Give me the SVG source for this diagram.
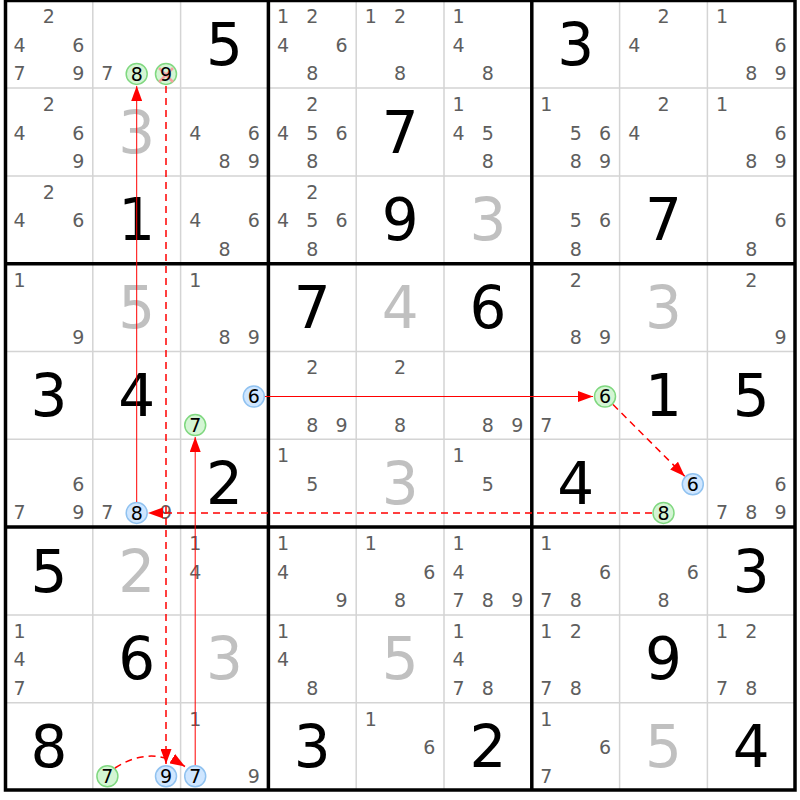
<svg xmlns="http://www.w3.org/2000/svg" width="800" height="800" viewBox="0 0 800 800">
<style>
text{font-family:"DejaVu Sans","Liberation Sans",sans-serif;text-anchor:middle}
.c{font-size:19px;fill:#5e5e5e}
.k{font-size:19px;fill:#000}
.g{font-size:58px;fill:#000}
.s{font-size:58px;fill:#c0c0c0}
.thin{stroke:#d4d4d4;stroke-width:1.5;fill:none}
.thick{stroke:#000;stroke-width:3.5;fill:none}
.gr{fill:#d4f5d4;stroke:#80d880;stroke-width:1.5}
.bl{fill:#cfe6ff;stroke:#90c2f0;stroke-width:1.5}
.ln{stroke:#ff0000;stroke-width:1;fill:none;marker-end:url(#ah)}
.dl{stroke:#ff0000;stroke-width:1.5;fill:none;stroke-dasharray:7,5;marker-end:url(#ah)}
.x{stroke:#f4a0a0;stroke-width:2.5}
</style>
<defs>
<marker id="ah" markerUnits="userSpaceOnUse" markerWidth="15" markerHeight="11" refX="15" refY="5.5" orient="auto">
<path d="M0,0 L15,5.5 L0,11 z" fill="#ff0000"/>
</marker>
</defs>
<rect x="0" y="0" width="800" height="800" fill="#fff"/>
<g id="grid">
<path class="thin" d="M92.8,0V790M180.6,0V790M356.2,0V790M444,0V790M619.6,0V790M707.4,0V790M5,88.1H795M5,175.9H795M5,351.5H795M5,439.3H795M5,614.9H795M5,702.7H795"/>
<path class="thick" d="M268.4,0V790M531.8,0V790M5,263.7H795M5,527.1H795"/>
<rect class="thick" x="5.5" y="0.5" width="789.5" height="789.5"/>
</g>
<g id="r0c0"><text class="c" x="48.9" y="23.1">2</text><text class="c" x="19.6" y="51.8">4</text><text class="c" x="78.2" y="51.8">6</text><text class="c" x="19.6" y="80.4">7</text><text class="c" x="78.2" y="80.4">9</text></g>
<g id="r0c1"><text class="c" x="107.4" y="80.4">7</text><circle class="gr" cx="136.7" cy="73.9" r="10.5"/><text class="k" x="136.7" y="80.6">8</text><circle class="gr" cx="166" cy="73.9" r="10.5"/><path class="x" d="M159,68L173,82M173,68L159,82"/><text class="k" x="166" y="80.6">9</text></g>
<g id="r0c2"><text class="g" x="224.5" y="64.8">5</text></g>
<g id="r0c3"><text class="c" x="283" y="23.1">1</text><text class="c" x="312.3" y="23.1">2</text><text class="c" x="283" y="51.8">4</text><text class="c" x="341.6" y="51.8">6</text><text class="c" x="312.3" y="80.4">8</text></g>
<g id="r0c4"><text class="c" x="370.8" y="23.1">1</text><text class="c" x="400.1" y="23.1">2</text><text class="c" x="400.1" y="80.4">8</text></g>
<g id="r0c5"><text class="c" x="458.6" y="23.1">1</text><text class="c" x="458.6" y="51.8">4</text><text class="c" x="487.9" y="80.4">8</text></g>
<g id="r0c6"><text class="g" x="575.7" y="64.8">3</text></g>
<g id="r0c7"><text class="c" x="663.5" y="23.1">2</text><text class="c" x="634.2" y="51.8">4</text></g>
<g id="r0c8"><text class="c" x="722" y="23.1">1</text><text class="c" x="780.6" y="51.8">6</text><text class="c" x="751.3" y="80.4">8</text><text class="c" x="780.6" y="80.4">9</text></g>

<g id="r1c0"><text class="c" x="48.9" y="110.9">2</text><text class="c" x="19.6" y="139.6">4</text><text class="c" x="78.2" y="139.6">6</text><text class="c" x="78.2" y="168.2">9</text></g>
<g id="r1c1"><text class="s" x="136.7" y="152.6">3</text></g>
<g id="r1c2"><text class="c" x="195.2" y="139.6">4</text><text class="c" x="253.8" y="139.6">6</text><text class="c" x="224.5" y="168.2">8</text><text class="c" x="253.8" y="168.2">9</text></g>
<g id="r1c3"><text class="c" x="312.3" y="110.9">2</text><text class="c" x="283" y="139.6">4</text><text class="c" x="312.3" y="139.6">5</text><text class="c" x="341.6" y="139.6">6</text><text class="c" x="312.3" y="168.2">8</text></g>
<g id="r1c4"><text class="g" x="400.1" y="152.6">7</text></g>
<g id="r1c5"><text class="c" x="458.6" y="110.9">1</text><text class="c" x="458.6" y="139.6">4</text><text class="c" x="487.9" y="139.6">5</text><text class="c" x="487.9" y="168.2">8</text></g>
<g id="r1c6"><text class="c" x="546.4" y="110.9">1</text><text class="c" x="575.7" y="139.6">5</text><text class="c" x="605" y="139.6">6</text><text class="c" x="575.7" y="168.2">8</text><text class="c" x="605" y="168.2">9</text></g>
<g id="r1c7"><text class="c" x="663.5" y="110.9">2</text><text class="c" x="634.2" y="139.6">4</text></g>
<g id="r1c8"><text class="c" x="722" y="110.9">1</text><text class="c" x="780.6" y="139.6">6</text><text class="c" x="751.3" y="168.2">8</text><text class="c" x="780.6" y="168.2">9</text></g>

<g id="r2c0"><text class="c" x="48.9" y="198.7">2</text><text class="c" x="19.6" y="227.4">4</text><text class="c" x="78.2" y="227.4">6</text></g>
<g id="r2c1"><text class="g" x="136.7" y="240.4">1</text></g>
<g id="r2c2"><text class="c" x="195.2" y="227.4">4</text><text class="c" x="253.8" y="227.4">6</text><text class="c" x="224.5" y="256">8</text></g>
<g id="r2c3"><text class="c" x="312.3" y="198.7">2</text><text class="c" x="283" y="227.4">4</text><text class="c" x="312.3" y="227.4">5</text><text class="c" x="341.6" y="227.4">6</text><text class="c" x="312.3" y="256">8</text></g>
<g id="r2c4"><text class="g" x="400.1" y="240.4">9</text></g>
<g id="r2c5"><text class="s" x="487.9" y="240.4">3</text></g>
<g id="r2c6"><text class="c" x="575.7" y="227.4">5</text><text class="c" x="605" y="227.4">6</text><text class="c" x="575.7" y="256">8</text></g>
<g id="r2c7"><text class="g" x="663.5" y="240.4">7</text></g>
<g id="r2c8"><text class="c" x="780.6" y="227.4">6</text><text class="c" x="751.3" y="256">8</text></g>

<g id="r3c0"><text class="c" x="19.6" y="286.5">1</text><text class="c" x="78.2" y="343.8">9</text></g>
<g id="r3c1"><text class="s" x="136.7" y="328.2">5</text></g>
<g id="r3c2"><text class="c" x="195.2" y="286.5">1</text><text class="c" x="224.5" y="343.8">8</text><text class="c" x="253.8" y="343.8">9</text></g>
<g id="r3c3"><text class="g" x="312.3" y="328.2">7</text></g>
<g id="r3c4"><text class="s" x="400.1" y="328.2">4</text></g>
<g id="r3c5"><text class="g" x="487.9" y="328.2">6</text></g>
<g id="r3c6"><text class="c" x="575.7" y="286.5">2</text><text class="c" x="575.7" y="343.8">8</text><text class="c" x="605" y="343.8">9</text></g>
<g id="r3c7"><text class="s" x="663.5" y="328.2">3</text></g>
<g id="r3c8"><text class="c" x="751.3" y="286.5">2</text><text class="c" x="780.6" y="343.8">9</text></g>

<g id="r4c0"><text class="g" x="48.9" y="416">3</text></g>
<g id="r4c1"><text class="g" x="136.7" y="416">4</text></g>
<g id="r4c2"><circle class="bl" cx="253.8" cy="396.5" r="10.5"/><text class="k" x="253.8" y="403.2">6</text><circle class="gr" cx="195.2" cy="425.1" r="10.5"/><text class="k" x="195.2" y="431.8">7</text></g>
<g id="r4c3"><text class="c" x="312.3" y="374.3">2</text><text class="c" x="312.3" y="431.6">8</text><text class="c" x="341.6" y="431.6">9</text></g>
<g id="r4c4"><text class="c" x="400.1" y="374.3">2</text><text class="c" x="400.1" y="431.6">8</text></g>
<g id="r4c5"><text class="c" x="487.9" y="431.6">8</text><text class="c" x="517.2" y="431.6">9</text></g>
<g id="r4c6"><circle class="gr" cx="605" cy="396.5" r="10.5"/><text class="k" x="605" y="403.2">6</text><text class="c" x="546.4" y="431.6">7</text></g>
<g id="r4c7"><text class="g" x="663.5" y="416">1</text></g>
<g id="r4c8"><text class="g" x="751.3" y="416">5</text></g>

<g id="r5c0"><text class="c" x="78.2" y="490.8">6</text><text class="c" x="19.6" y="519.4">7</text><text class="c" x="78.2" y="519.4">9</text></g>
<g id="r5c1"><text class="c" x="107.4" y="519.4">7</text><circle class="bl" cx="136.7" cy="512.9" r="10.5"/><text class="k" x="136.7" y="519.6">8</text><text class="c" x="166" y="519.4">9</text></g>
<g id="r5c2"><text class="g" x="224.5" y="503.8">2</text></g>
<g id="r5c3"><text class="c" x="283" y="462.1">1</text><text class="c" x="312.3" y="490.8">5</text></g>
<g id="r5c4"><text class="s" x="400.1" y="503.8">3</text></g>
<g id="r5c5"><text class="c" x="458.6" y="462.1">1</text><text class="c" x="487.9" y="490.8">5</text></g>
<g id="r5c6"><text class="g" x="575.7" y="503.8">4</text></g>
<g id="r5c7"><circle class="bl" cx="692.8" cy="484.3" r="10.5"/><text class="k" x="692.8" y="491">6</text><circle class="gr" cx="663.5" cy="512.9" r="10.5"/><text class="k" x="663.5" y="519.6">8</text></g>
<g id="r5c8"><text class="c" x="780.6" y="490.8">6</text><text class="c" x="722" y="519.4">7</text><text class="c" x="751.3" y="519.4">8</text><text class="c" x="780.6" y="519.4">9</text></g>

<g id="r6c0"><text class="g" x="48.9" y="591.6">5</text></g>
<g id="r6c1"><text class="s" x="136.7" y="591.6">2</text></g>
<g id="r6c2"><text class="c" x="195.2" y="549.9">1</text><text class="c" x="195.2" y="578.6">4</text></g>
<g id="r6c3"><text class="c" x="283" y="549.9">1</text><text class="c" x="283" y="578.6">4</text><text class="c" x="341.6" y="607.2">9</text></g>
<g id="r6c4"><text class="c" x="370.8" y="549.9">1</text><text class="c" x="429.4" y="578.6">6</text><text class="c" x="400.1" y="607.2">8</text></g>
<g id="r6c5"><text class="c" x="458.6" y="549.9">1</text><text class="c" x="458.6" y="578.6">4</text><text class="c" x="458.6" y="607.2">7</text><text class="c" x="487.9" y="607.2">8</text><text class="c" x="517.2" y="607.2">9</text></g>
<g id="r6c6"><text class="c" x="546.4" y="549.9">1</text><text class="c" x="605" y="578.6">6</text><text class="c" x="546.4" y="607.2">7</text><text class="c" x="575.7" y="607.2">8</text></g>
<g id="r6c7"><text class="c" x="692.8" y="578.6">6</text><text class="c" x="663.5" y="607.2">8</text></g>
<g id="r6c8"><text class="g" x="751.3" y="591.6">3</text></g>

<g id="r7c0"><text class="c" x="19.6" y="637.7">1</text><text class="c" x="19.6" y="666.4">4</text><text class="c" x="19.6" y="695">7</text></g>
<g id="r7c1"><text class="g" x="136.7" y="679.4">6</text></g>
<g id="r7c2"><text class="s" x="224.5" y="679.4">3</text></g>
<g id="r7c3"><text class="c" x="283" y="637.7">1</text><text class="c" x="283" y="666.4">4</text><text class="c" x="312.3" y="695">8</text></g>
<g id="r7c4"><text class="s" x="400.1" y="679.4">5</text></g>
<g id="r7c5"><text class="c" x="458.6" y="637.7">1</text><text class="c" x="458.6" y="666.4">4</text><text class="c" x="458.6" y="695">7</text><text class="c" x="487.9" y="695">8</text></g>
<g id="r7c6"><text class="c" x="546.4" y="637.7">1</text><text class="c" x="575.7" y="637.7">2</text><text class="c" x="546.4" y="695">7</text><text class="c" x="575.7" y="695">8</text></g>
<g id="r7c7"><text class="g" x="663.5" y="679.4">9</text></g>
<g id="r7c8"><text class="c" x="722" y="637.7">1</text><text class="c" x="751.3" y="637.7">2</text><text class="c" x="722" y="695">7</text><text class="c" x="751.3" y="695">8</text></g>

<g id="r8c0"><text class="g" x="48.9" y="767.2">8</text></g>
<g id="r8c1"><circle class="gr" cx="107.4" cy="776.3" r="10.5"/><text class="k" x="107.4" y="783">7</text><circle class="bl" cx="166" cy="776.3" r="10.5"/><text class="k" x="166" y="783">9</text></g>
<g id="r8c2"><text class="c" x="195.2" y="725.5">1</text><circle class="bl" cx="195.2" cy="776.3" r="10.5"/><text class="k" x="195.2" y="783">7</text><text class="c" x="253.8" y="782.8">9</text></g>
<g id="r8c3"><text class="g" x="312.3" y="767.2">3</text></g>
<g id="r8c4"><text class="c" x="370.8" y="725.5">1</text><text class="c" x="429.4" y="754.2">6</text></g>
<g id="r8c5"><text class="g" x="487.9" y="767.2">2</text></g>
<g id="r8c6"><text class="c" x="546.4" y="725.5">1</text><text class="c" x="605" y="754.2">6</text><text class="c" x="546.4" y="782.8">7</text></g>
<g id="r8c7"><text class="s" x="663.5" y="767.2">5</text></g>
<g id="r8c8"><text class="g" x="751.3" y="767.2">4</text></g>

<g id="connectors">
<path class="ln" d="M136.7,502 L136.7,86"/>
<path class="dl" d="M166,86 L166,764"/>
<path class="ln" d="M195.2,765 L195.2,437"/>
<path class="ln" d="M265,396.5 L593,396.5"/>
<path class="dl" d="M613,404.5 L684.7,476.2"/>
<path class="dl" d="M652,512.9 L148,512.9"/>
<path class="dl" d="M115,768 Q150,745 185,766.5"/>
</g>
</svg>
